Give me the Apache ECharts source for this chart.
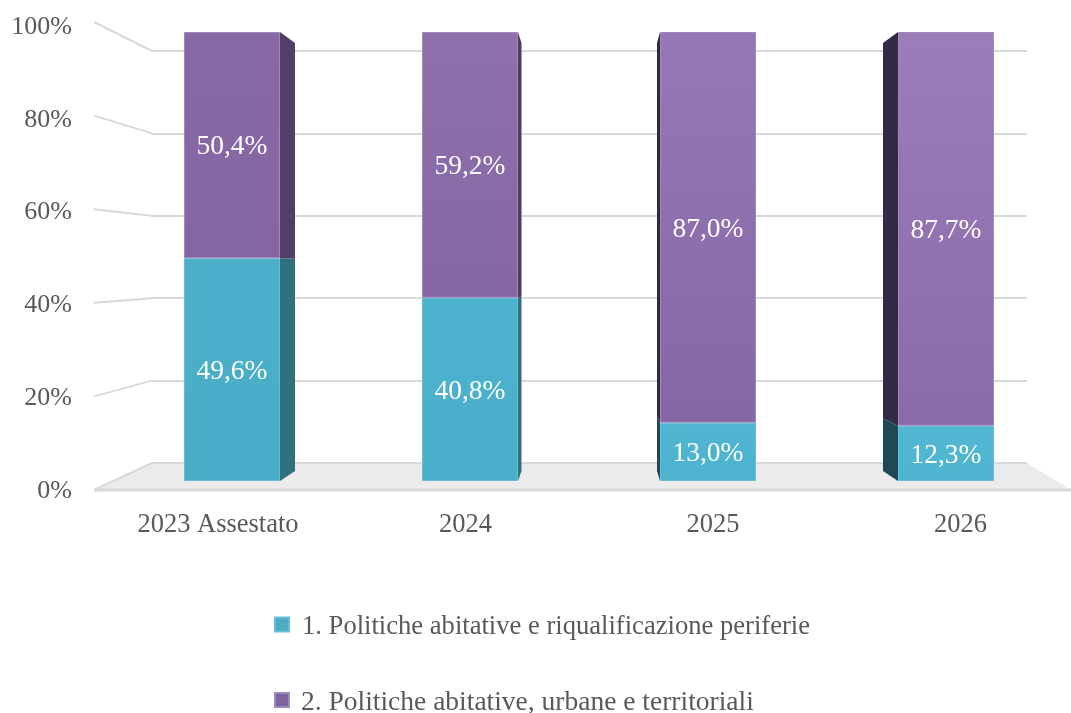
<!DOCTYPE html>
<html>
<head>
<meta charset="utf-8">
<style>html,body{margin:0;padding:0;background:#fff}#c{width:1071px;height:713px}</style>
<script src="https://cdn.jsdelivr.net/npm/echarts@6/dist/echarts.min.js"></script>
</head>
<body>
<div id="c"></div>
<script>
// ---- data ----
const categories = ['2023 Assestato', '2024', '2025', '2026'];
const seriesNames = ['1. Politiche abitative e riqualificazione periferie', '2. Politiche abitative, urbane e territoriali'];
const politicheRiqualificazione = [49.6, 40.8, 13.0, 12.3];
const politicheTerritoriali = [50.4, 59.2, 87.0, 87.7];
const axisTicks = [0, 20, 40, 60, 80, 100];

// ---- layout and style ----
const FONT = '"Liberation Serif", "Times New Roman", serif';
const TEXT = '#595959', LINE = '#d9d9d9';
const barPlane = {left: 113, width: 952, top: 32, height: 449};
const frontPlane = {left: 94, width: 977, top: 22, height: 468};
const backPlane = {left: 152, width: 875, top: 51, height: 412};
const labelPlane = {left: 218, width: 742.5, top: 22, height: 468};
const tickLabelPlane = {left: 94, width: 977, top: 27, height: 464};
const depthPlane = {top: 43, bottom: 471};
const floorRightFront = 1071;
const barWidth = 96;
const sideOffset = [15, 3.5, -3, -15];
const tealFill = [['#4bafca', '#4aadc8'], ['#4db2ce', '#4bafca'], ['#50b5d1', '#4eb3cf'], ['#51b7d3', '#4fb4d0']];
const purpleFill = [['#8769a6', '#8466a3'], ['#8e70ac', '#8467a4'], ['#9678b6', '#8667a6'], ['#9b7dba', '#8a6ba9']];
const tealSide = ['#30707f', '#30707f', '#1f4a55', '#1f4a55'];
const purpleSide = ['#533e68', '#4f3b63', '#33293f', '#352a44'];

const yOf = (p, v) => p.top + p.height * (1 - v / 100);
const depthY = v => depthPlane.bottom - (depthPlane.bottom - depthPlane.top) * v / 100;

function gradient(c) {
  return {type: 'linear', x: 0, y: 0, x2: 0, y2: 1, colorStops: [{offset: 0, color: c[0]}, {offset: 1, color: c[1]}]};
}
function barData(values, fills) {
  return values.map((v, i) => ({value: v, itemStyle: {color: gradient(fills[i])}}));
}
function barSeries(name, values, fills, color, edge) {
  return {
    name, type: 'bar', stack: 'total', xAxisIndex: 0, yAxisIndex: 0, barWidth, z: 5,
    itemStyle: {color, borderColor: edge, borderWidth: 1},
    label: {
      show: true, position: 'inside', offset: [0, 2], color: '#fff', fontFamily: FONT, fontSize: 27.5,
      formatter: p => p.value.toFixed(1).replace('.', ',') + '%'
    },
    data: barData(values, fills)
  };
}
function legendRow(name, top, fontSize, gap) {
  return {
    orient: 'horizontal', left: 269, top, itemWidth: 14, itemHeight: 14,
    icon: 'rect', data: [name],
    formatter: n => '{t|' + n + '}',
    textStyle: {
      color: TEXT, fontFamily: FONT, fontSize, padding: [0, 0, 0, gap],
      rich: {t: {color: TEXT, fontFamily: FONT, fontSize, padding: [6, 0, 0, 0]}}
    }
  };
}

// side faces of the bars, one row per segment
const sideRows = [];
categories.forEach((c, i) => {
  sideRows.push([i, 0, politicheRiqualificazione[i], 0]);
  sideRows.push([i, politicheRiqualificazione[i], politicheRiqualificazione[i] + politicheTerritoriali[i], 1]);
});

const option = {
  animation: false,
  backgroundColor: '#fff',
  textStyle: {fontFamily: FONT},
  grid: [barPlane, frontPlane, backPlane, labelPlane, tickLabelPlane].map(p => ({left: p.left, width: p.width, top: p.top, height: p.height})),
  xAxis: [
    {gridIndex: 0, type: 'category', data: categories, show: false},
    {gridIndex: 1, type: 'category', data: categories, show: false},
    {gridIndex: 2, type: 'category', data: categories, show: false},
    {gridIndex: 3, type: 'category', data: categories, boundaryGap: false,
      axisLine: {show: false}, axisTick: {show: false},
      axisLabel: {margin: 22, color: TEXT, fontFamily: FONT, fontSize: 26.5, interval: 0, showMinLabel: true, showMaxLabel: true}},
    {gridIndex: 4, type: 'category', data: categories, show: false}
  ],
  yAxis: [
    {gridIndex: 0, type: 'value', min: 0, max: 100, show: false},
    {gridIndex: 1, type: 'value', min: 0, max: 100, show: false},
    {gridIndex: 2, type: 'value', min: 0, max: 100, interval: 20,
      axisLine: {show: false}, axisTick: {show: false}, axisLabel: {show: false},
      splitLine: {show: true, lineStyle: {color: LINE, width: 2}}},
    {gridIndex: 3, type: 'value', min: 0, max: 100, show: false},
    {gridIndex: 4, type: 'value', min: 0, max: 100, interval: 20,
      axisLine: {show: false}, axisTick: {show: false}, splitLine: {show: false},
      axisLabel: {margin: 22, color: TEXT, fontFamily: FONT, fontSize: 26, padding: [4, 0, 0, 0], formatter: '{value}%'}}
  ],
  legend: [legendRow(seriesNames[0], 609, 26.6, 8), legendRow(seriesNames[1], 684, 27.5, 7)],
  series: [
    // floor
    {
      type: 'custom', xAxisIndex: 1, yAxisIndex: 1, z: 1, silent: true, data: [[0, 0]],
      renderItem: (params, api) => {
        const fy = api.coord([0, 0])[1];
        const by = yOf(backPlane, 0);
        const fl = frontPlane.left, bl = backPlane.left, br = backPlane.left + backPlane.width;
        return {type: 'group', children: [
          {type: 'polygon', shape: {points: [[fl, fy], [bl, by], [br, by], [floorRightFront, fy]]}, style: {fill: '#ebebeb'}},
          {type: 'line', shape: {x1: bl, y1: by, x2: br, y2: by}, style: {stroke: LINE, lineWidth: 2}},
          {type: 'line', shape: {x1: fl, y1: fy, x2: floorRightFront, y2: fy}, style: {stroke: LINE, lineWidth: 3}}
        ]};
      }
    },
    // left wall lines
    {
      type: 'custom', xAxisIndex: 1, yAxisIndex: 1, z: 2, silent: true,
      data: axisTicks.map(t => [0, t]),
      renderItem: (params, api) => {
        const v = api.value(1);
        return {type: 'line', shape: {x1: frontPlane.left, y1: api.coord([0, v])[1], x2: backPlane.left, y2: yOf(backPlane, v)},
          style: {stroke: LINE, lineWidth: 2}};
      }
    },
    // side faces
    {
      type: 'custom', xAxisIndex: 0, yAxisIndex: 0, z: 4, silent: true,
      data: sideRows,
      renderItem: (params, api) => {
        const i = api.value(0), from = api.value(1), to = api.value(2), s = api.value(3);
        const off = sideOffset[i];
        const cx = api.coord([i, 0])[0];
        const ex = cx + (off > 0 ? barWidth / 2 : -barWidth / 2);
        return {type: 'polygon', shape: {points: [
          [ex, api.coord([i, from])[1]], [ex + off, depthY(from)],
          [ex + off, depthY(to)], [ex, api.coord([i, to])[1]]
        ]}, style: {fill: (s === 0 ? tealSide : purpleSide)[i]}};
      }
    },
    barSeries(seriesNames[0], politicheRiqualificazione, tealFill, '#4bacc6', '#66bfd6'),
    barSeries(seriesNames[1], politicheTerritoriali, purpleFill, '#8064a2', '#a08abb')
  ]
};
const chart = echarts.init(document.getElementById('c'), null, {renderer: 'canvas'});
chart.setOption(option);
</script>
</body>
</html>
